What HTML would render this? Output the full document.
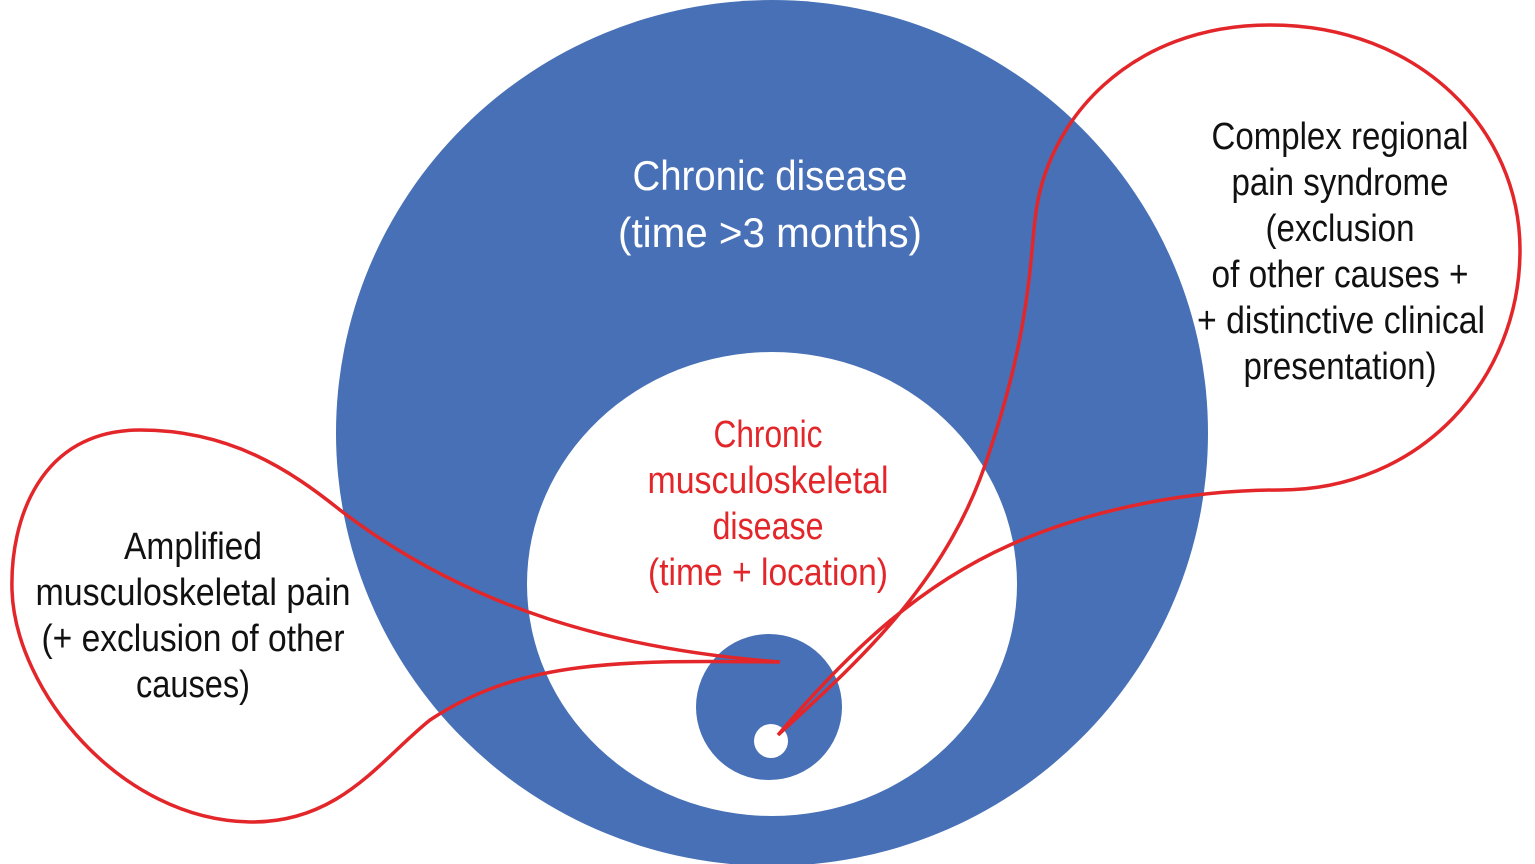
<!DOCTYPE html>
<html><head><meta charset="utf-8"><style>
html,body{margin:0;padding:0;background:#fff;}
svg{display:block}
text{font-family:"Liberation Sans Narrow","Liberation Sans",sans-serif;text-anchor:middle;}
</style></head><body>
<svg width="1535" height="864" viewBox="0 0 1535 864" xmlns="http://www.w3.org/2000/svg">
<ellipse cx="772" cy="433" rx="436" ry="433" fill="#4770b6"/>
<ellipse cx="772" cy="584" rx="245" ry="232" fill="#fff"/>
<circle cx="769" cy="707" r="73" fill="#4770b6"/>
<circle cx="771" cy="741" r="17" fill="#fff"/>
<g fill="none" stroke="#e3262a" stroke-width="3.5">
<path d="M780 662 C620 650 470 610 340 510 C290 470 230 430 140 430 C40 430 10 520 12 590 C15 690 120 820 250 822 C340 823 380 760 430 720 C520 660 620 660 780 662"/>
<path d="M778 735 C860 660 950 580 990 450 C1030 330 1030 260 1035 220 C1045 120 1130 25 1270 25 C1420 25 1520 130 1520 250 C1520 380 1420 490 1280 490 C1200 490 1100 505 1010 545 C920 585 850 650 778 735"/>
</g>
<g font-size="42" fill="#fff" lengthAdjust="spacingAndGlyphs">
<text x="770" y="190" textLength="275" lengthAdjust="spacingAndGlyphs">Chronic disease</text>
<text x="770" y="247" textLength="304" lengthAdjust="spacingAndGlyphs">(time &gt;3 months)</text>
</g>
<g font-size="38" fill="#e3262a">
<text x="768" y="447" textLength="109" lengthAdjust="spacingAndGlyphs">Chronic</text>
<text x="768" y="493" textLength="241" lengthAdjust="spacingAndGlyphs">musculoskeletal</text>
<text x="768" y="539" textLength="111" lengthAdjust="spacingAndGlyphs">disease</text>
<text x="768" y="585" textLength="240" lengthAdjust="spacingAndGlyphs">(time + location)</text>
</g>
<g font-size="38" fill="#111">
<text x="193" y="559" textLength="138" lengthAdjust="spacingAndGlyphs">Amplified</text>
<text x="193" y="605" textLength="315" lengthAdjust="spacingAndGlyphs">musculoskeletal pain</text>
<text x="193" y="651" textLength="303" lengthAdjust="spacingAndGlyphs">(+ exclusion of other</text>
<text x="193" y="697" textLength="114" lengthAdjust="spacingAndGlyphs">causes)</text>
<text x="1340" y="149" textLength="257" lengthAdjust="spacingAndGlyphs">Complex regional</text>
<text x="1340" y="195" textLength="217" lengthAdjust="spacingAndGlyphs">pain syndrome</text>
<text x="1340" y="241" textLength="149" lengthAdjust="spacingAndGlyphs">(exclusion</text>
<text x="1340" y="287" textLength="257" lengthAdjust="spacingAndGlyphs">of other causes +</text>
<text x="1341" y="333" textLength="288" lengthAdjust="spacingAndGlyphs">+ distinctive clinical</text>
<text x="1340" y="379" textLength="193" lengthAdjust="spacingAndGlyphs">presentation)</text>
</g>
</svg>
</body></html>
